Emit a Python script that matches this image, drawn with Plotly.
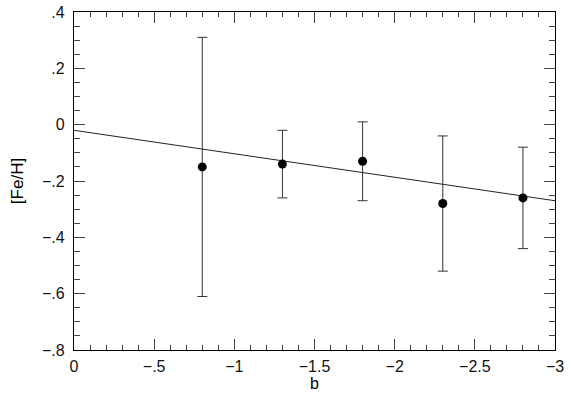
import plotly.graph_objects as go

# Data
b_vals = [-0.8, -1.3, -1.8, -2.3, -2.8]
feh = [-0.15, -0.14, -0.13, -0.28, -0.26]
err_plus = [0.46, 0.12, 0.14, 0.24, 0.18]
err_minus = [0.46, 0.12, 0.14, 0.24, 0.18]
fit_x = [0.0, -3.0]
fit_y = [-0.02, -0.27]

x_tickvals = [0, -0.5, -1, -1.5, -2, -2.5, -3]
x_ticktext = ["0", "\u2212.5", "\u22121", "\u22121.5", "\u22122", "\u22122.5", "\u22123"]
y_tickvals = [0.4, 0.2, 0, -0.2, -0.4, -0.6, -0.8]
y_ticktext = [".4", ".2", "0", "\u2212.2", "\u2212.4", "\u2212.6", "\u2212.8"]

FONT = "Liberation Sans, Arial, sans-serif"

fig = go.Figure()
fig.add_trace(go.Scatter(
    x=fit_x, y=fit_y, mode="lines",
    line=dict(color="#222222", width=1), showlegend=False, hoverinfo="skip"))
fig.add_trace(go.Scatter(
    x=b_vals, y=feh, mode="markers",
    marker=dict(color="black", size=9),
    error_y=dict(type="data", symmetric=False, array=err_plus, arrayminus=err_minus,
                 color="#333333", thickness=1, width=5),
    showlegend=False))

axis_common = dict(
    showline=True, linecolor="black", linewidth=1.2, mirror="allticks",
    ticks="inside", ticklen=11, tickwidth=1, tickcolor="#444444",
    showgrid=False, zeroline=False, automargin=False,
    ticklabeloverflow="allow",
    tickfont=dict(family=FONT, size=16, color="#111111"),
)

fig.update_xaxes(
    range=[0, -3], tickvals=x_tickvals, ticktext=x_ticktext,
    minor=dict(dtick=0.1, ticks="inside", ticklen=5, tickcolor="#444444", tickwidth=1),
    ticklabelstandoff=2,
    title=dict(text="b", font=dict(family=FONT, size=16, color="black"), standoff=0),
    **axis_common)
fig.update_yaxes(
    range=[-0.8, 0.4], tickvals=y_tickvals, ticktext=y_ticktext,
    minor=dict(dtick=0.05, ticks="inside", ticklen=6, tickcolor="#444444", tickwidth=1),
    ticklabelstandoff=5,
    title=dict(text="[Fe/H]", font=dict(family=FONT, size=17, color="black"), standoff=14),
    **axis_common)

fig.update_layout(
    width=570, height=403,
    margin=dict(l=74, r=15, t=12, b=53),
    plot_bgcolor="white", paper_bgcolor="white",
)

fig.write_html("out.html", config={"displayModeBar": False},
               post_script="document.body.style.margin='0';")
